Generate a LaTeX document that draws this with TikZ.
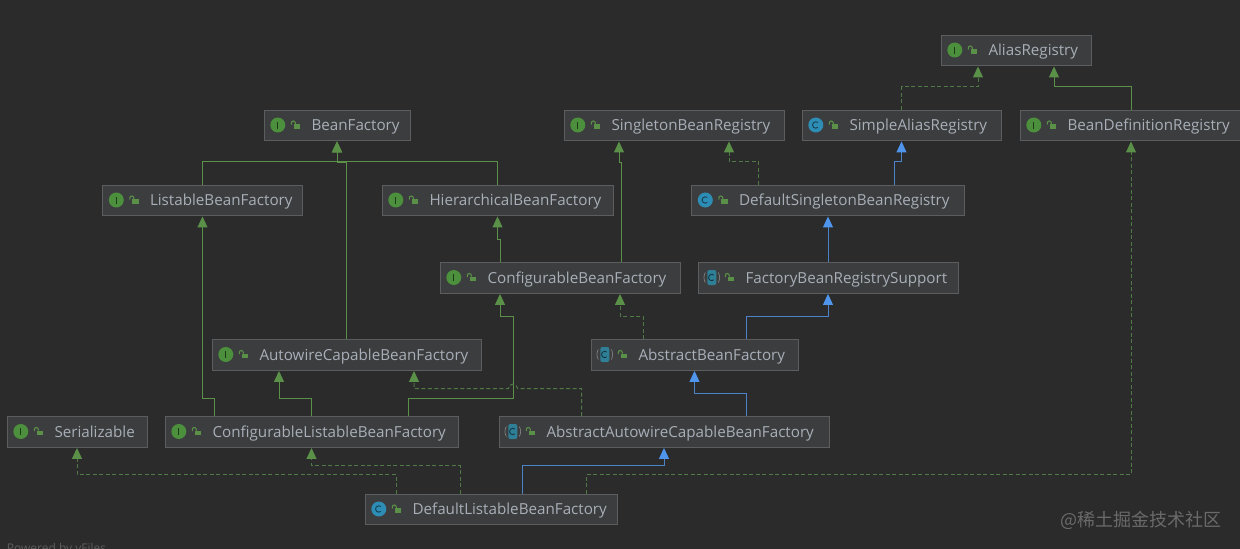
\documentclass[tikz,border=0pt]{standalone}
\usepackage{fontspec}
\usetikzlibrary{arrows.meta}
\setmainfont{Open Sans}
\newfontfamily\cjkfont{Noto Sans CJK SC}

\definecolor{canvascolor}{HTML}{2B2B2B}
\definecolor{boxcolor}{HTML}{3C3D3E}
\definecolor{edgecolor}{HTML}{5C5D5E}
\definecolor{namecolor}{HTML}{A8AFB8}
\definecolor{greenicon}{HTML}{4C8F3C}
\definecolor{blueicon}{HTML}{2E8DB5}
\definecolor{tealicon}{HTML}{2F7F96}
\definecolor{greenline}{HTML}{5A9048}
\definecolor{dashgreen}{HTML}{4F7A46}
\definecolor{blueline}{HTML}{4C82C8}
\definecolor{bluetip}{HTML}{4F95EC}

\newcommand{\lockicon}{
	\fill [greenline] (30pt,-3.5pt) rectangle (36.5pt,1pt);
	\draw [greenline,line width=1.1pt] (31.5pt,1pt) -- (31.5pt,2pt) arc [start angle=0,end angle=180,radius=2pt] -- (27.5pt,0.5pt);
}

\tikzset{
	classbox/.style={draw=edgecolor,fill=boxcolor,text=namecolor,text width=#1,inner xsep=0pt,inner ysep=0pt,
		minimum height=30.5pt,text height=14pt,text depth=2.5pt,font=\fontsize{15.2pt}{18pt}\selectfont,
		execute at begin node={\hspace*{47.5pt}}},
	interfaceicon/.pic={
		\fill [greenicon] (14pt,0pt) circle (7.5pt);
		\draw [black!60!greenicon,line width=0.9pt] (14pt,-3.5pt) -- (14pt,3.5pt);
		\lockicon
	},
	concreteicon/.pic={
		\fill [blueicon] (14pt,0pt) circle (7.5pt);
		\draw [black!55!blueicon,line width=0.9pt] (16pt,2.5pt) arc [start angle=50,end angle=310,radius=3.2pt];
		\lockicon
	},
	abstracticon/.pic={
		\fill [tealicon,rounded corners=2pt] (9.5pt,-7.5pt) rectangle (18.5pt,7.5pt);
		\draw [gray,line width=0.7pt] (7.5pt,5pt) arc [start angle=150,end angle=210,radius=10pt];
		\draw [gray,line width=0.7pt] (20.5pt,5pt) arc [start angle=30,end angle=-30,radius=10pt];
		\draw [black!55!tealicon,line width=0.9pt] (16pt,2.5pt) arc [start angle=50,end angle=310,radius=3.2pt];
		\lockicon
	},
	extendsline/.style={greenline,line width=1pt,shorten >=1pt,-{Triangle[width=10pt,length=11pt]}},
	implementsline/.style={dashgreen,line width=1pt,dash pattern=on 4pt off 2.5pt,shorten >=1pt,
		-{Triangle[width=10pt,length=11pt,color=greenline,fill=greenline]}},
	classline/.style={blueline,line width=1pt,shorten >=1pt,-{Triangle[width=10pt,length=11pt,color=bluetip,fill=bluetip]}},
}

\begin{document}
\begin{tikzpicture}[x=1pt,y=-1pt]

		\useasboundingbox (0,0) rectangle (1240,549);
		\fill [canvascolor] (0,0) rectangle (1240,549);

		\node (AliasRegistry) at (1016,50) [classbox=150pt]{AliasRegistry};

		\node (BeanFactory) at (337,125) [classbox=146pt]{BeanFactory};
		\node (SingletonBeanRegistry) at (674,125) [classbox=220pt]{SingletonBeanRegistry};
		\node (SimpleAliasRegistry) at (901.5,125) [classbox=199pt]{SimpleAliasRegistry};
		\node (BeanDefinitionRegistry) at (1131,125) [classbox=222pt]{BeanDefinitionRegistry};

		\node (ListableBeanFactory) at (202.5,200) [classbox=200pt]{ListableBeanFactory};
		\node (HierarchicalBeanFactory) at (497.5,200) [classbox=231pt]{HierarchicalBeanFactory};
		\node (DefaultSingletonBeanRegistry) at (828,200) [classbox=273pt]{DefaultSingletonBeanRegistry};

		\node (ConfigurableBeanFactory) at (560,277.5) [classbox=240pt]{ConfigurableBeanFactory};
		\node (FactoryBeanRegistrySupport) at (828,277.5) [classbox=260pt]{FactoryBeanRegistrySupport};

		\node (AutowireCapableBeanFactory) at (346.5,354.5) [classbox=269pt]{AutowireCapableBeanFactory};
		\node (AbstractBeanFactory) at (694.5,354.5) [classbox=207pt]{AbstractBeanFactory};

		\node (Serializable) at (77,431.5) [classbox=140pt]{Serializable};
		\node (ConfigurableListableBeanFactory) at (311.5,431.5) [classbox=293pt]{ConfigurableListableBeanFactory};
		\node (AbstractAutowireCapableBeanFactory) at (664,431.5) [classbox=330pt]{AbstractAutowireCapableBeanFactory};

		\node (DefaultListableBeanFactory) at (491,509) [classbox=252pt]{DefaultListableBeanFactory};

		\node (Watermark) at (1141,520) [text=gray!75!canvascolor,font=\cjkfont\fontsize{18pt}{20pt}\selectfont,inner sep=0pt]{@稀土掘金技术社区};
		\node (PoweredBy) at (56.5,549) [text=gray!60!canvascolor,font=\fontsize{12pt}{14pt}\selectfont,inner sep=0pt]{Powered by yFiles};

		\pic at (AliasRegistry.west) {interfaceicon};
		\pic at (BeanFactory.west) {interfaceicon};
		\pic at (SingletonBeanRegistry.west) {interfaceicon};
		\pic at (SimpleAliasRegistry.west) {concreteicon};
		\pic at (BeanDefinitionRegistry.west) {interfaceicon};
		\pic at (ListableBeanFactory.west) {interfaceicon};
		\pic at (HierarchicalBeanFactory.west) {interfaceicon};
		\pic at (DefaultSingletonBeanRegistry.west) {concreteicon};
		\pic at (ConfigurableBeanFactory.west) {interfaceicon};
		\pic at (FactoryBeanRegistrySupport.west) {abstracticon};
		\pic at (AutowireCapableBeanFactory.west) {interfaceicon};
		\pic at (AbstractBeanFactory.west) {abstracticon};
		\pic at (Serializable.west) {interfaceicon};
		\pic at (ConfigurableListableBeanFactory.west) {interfaceicon};
		\pic at (AbstractAutowireCapableBeanFactory.west) {abstracticon};
		\pic at (DefaultListableBeanFactory.west) {concreteicon};

		\draw [extendsline] (ListableBeanFactory.north) -- ++(0,-23) -| (BeanFactory.south);
		\draw [extendsline] (HierarchicalBeanFactory.north) -- ++(0,-23) -| (BeanFactory.south);
		\draw [extendsline] (AutowireCapableBeanFactory.north) -- ++(0,-177) -| (BeanFactory.south);

		\draw [extendsline] ([xshift=-60pt]ConfigurableBeanFactory.north) -- ++(0,-23) -| (HierarchicalBeanFactory.south);
		\draw [extendsline] ([xshift=61pt]ConfigurableBeanFactory.north) -- ++(0,-100) -| ([xshift=-55pt]SingletonBeanRegistry.south);

		\draw [implementsline] ([xshift=-69.5pt]DefaultSingletonBeanRegistry.north) -- ++(0,-23) -| ([xshift=55pt]SingletonBeanRegistry.south);
		\draw [classline] ([xshift=66.5pt]DefaultSingletonBeanRegistry.north) -- ++(0,-23) -| (SimpleAliasRegistry.south);

		\draw [implementsline] (SimpleAliasRegistry.north) -- ++(0,-23) -| ([xshift=-38pt]AliasRegistry.south);
		\draw [extendsline] (BeanDefinitionRegistry.north) -- ++(0,-23) -| ([xshift=38pt]AliasRegistry.south);

		\draw [classline] (FactoryBeanRegistrySupport.north) -- (DefaultSingletonBeanRegistry.south);

		\draw [classline] ([xshift=51.5pt]AbstractBeanFactory.north) -- ++(0,-23) -| (FactoryBeanRegistrySupport.south);
		\draw [implementsline] ([xshift=-51.5pt]AbstractBeanFactory.north) -- ++(0,-23) -| ([xshift=60pt]ConfigurableBeanFactory.south);

		\draw [extendsline] ([xshift=-97.5pt]ConfigurableListableBeanFactory.north) -- ++(0,-18) -| (ListableBeanFactory.south);
		\draw [extendsline] (ConfigurableListableBeanFactory.north) -- ++(0,-18) -| ([xshift=-67.5pt]AutowireCapableBeanFactory.south);
		\draw [extendsline] ([xshift=97pt]ConfigurableListableBeanFactory.north) -- ++(0,-18) -- ++(104.5,0) -- ++(0,-82) -| ([xshift=-60pt]ConfigurableBeanFactory.south);

		\draw [implementsline] ([xshift=-82.3pt]AbstractAutowireCapableBeanFactory.north) -- ++(0,-27.5) -- ++(-64.2,0) arc [start angle=0,end angle=180,radius=4.5pt] -| ([xshift=67.5pt]AutowireCapableBeanFactory.south);
		\draw [classline] ([xshift=82pt]AbstractAutowireCapableBeanFactory.north) -- ++(0,-23) -| (AbstractBeanFactory.south);

		\draw [classline] ([xshift=31.5pt]DefaultListableBeanFactory.north) -- ++(0,-28) -| (AbstractAutowireCapableBeanFactory.south);
		\draw [implementsline] ([xshift=-31pt]DefaultListableBeanFactory.north) -- ++(0,-28) -| (ConfigurableListableBeanFactory.south);
		\draw [implementsline] ([xshift=-95pt]DefaultListableBeanFactory.north) -- ++(0,-19) -| (Serializable.south);
		\draw [implementsline] ([xshift=95pt]DefaultListableBeanFactory.north) -- ++(0,-19) -| (BeanDefinitionRegistry.south);

	\end{tikzpicture}
\end{document}
